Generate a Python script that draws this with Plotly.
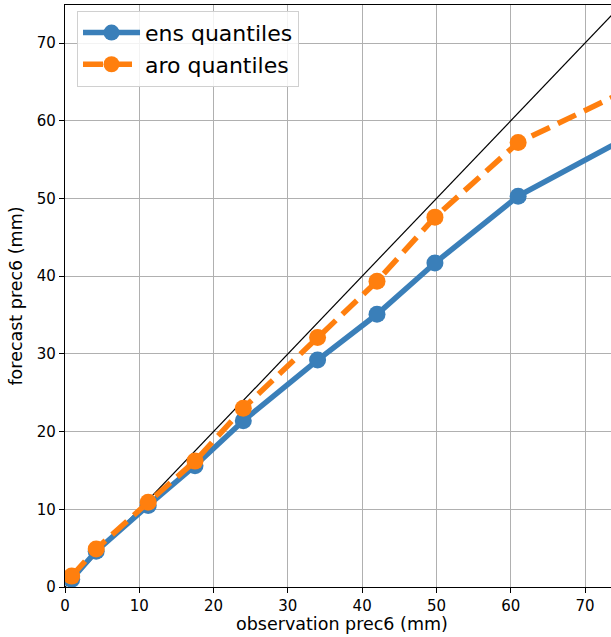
import plotly.graph_objects as go

obs = [0.9, 4.2, 11.2, 17.5, 24.0, 34.0, 42.0, 49.8, 61.0, 80.0]
ens_q = [1.0, 4.6, 10.5, 15.6, 21.4, 29.2, 35.1, 41.7, 50.3, 60.1]
aro_q = [1.4, 4.9, 10.9, 16.2, 23.0, 32.1, 39.35, 47.6, 57.2, 65.9]
diag = [0, 100]

x_ticks = [0, 10, 20, 30, 40, 50, 60, 70]
y_ticks = [0, 10, 20, 30, 40, 50, 60, 70]

BLUE = "#3a7fb9"
ORANGE = "#ff7f0e"

fig = go.Figure()
fig.add_trace(go.Scatter(x=diag, y=diag, mode="lines",
                         line=dict(color="black", width=1.2),
                         showlegend=False, hoverinfo="skip"))
fig.add_trace(go.Scatter(x=obs, y=ens_q, mode="lines+markers", name="ens quantiles",
                         line=dict(color=BLUE, width=5.5),
                         marker=dict(color=BLUE, size=17)))
fig.add_trace(go.Scatter(x=obs, y=aro_q, mode="lines+markers", name="aro quantiles",
                         line=dict(color=ORANGE, width=5.5, dash="20px,9px"),
                         marker=dict(color=ORANGE, size=17)))

font = "DejaVu Sans, sans-serif"
fig.update_layout(
    width=611, height=637,
    margin=dict(l=64.5, r=0, t=5, b=50),
    plot_bgcolor="white", paper_bgcolor="white",
    font=dict(family=font, color="black"),
    legend=dict(x=0.022, y=0.99, xanchor="left", yanchor="top",
                bgcolor="rgba(255,255,255,0.85)", bordercolor="#d0d0d0", borderwidth=1,
                font=dict(size=22, family=font), itemwidth=57,
                tracegroupgap=0),
    xaxis=dict(range=[0, 73.5], tickvals=x_ticks, showgrid=True, gridcolor="#b0b0b0",
               gridwidth=1, showline=True, linecolor="black", linewidth=1.2, mirror=True,
               ticks="outside", ticklen=5, tickcolor="black", tickfont=dict(size=15),
               zeroline=False),
    yaxis=dict(range=[0, 74.9], tickvals=y_ticks, showgrid=True, gridcolor="#b0b0b0",
               gridwidth=1, showline=True, linecolor="black", linewidth=1.2, mirror=False,
               ticks="outside", ticklen=5, tickcolor="black", tickfont=dict(size=15),
               zeroline=False,
               title=dict(text="forecast prec6 (mm)", font=dict(size=17.5), standoff=9)),
    annotations=[dict(text="observation prec6 (mm)", xref="paper", yref="paper",
                      x=0.507, y=0, yshift=-37, xanchor="center", yanchor="middle",
                      showarrow=False, font=dict(size=17.5))],
)

fig.write_html("out.html", config={"displayModeBar": False},
               post_script="document.body.style.margin='0px';")
